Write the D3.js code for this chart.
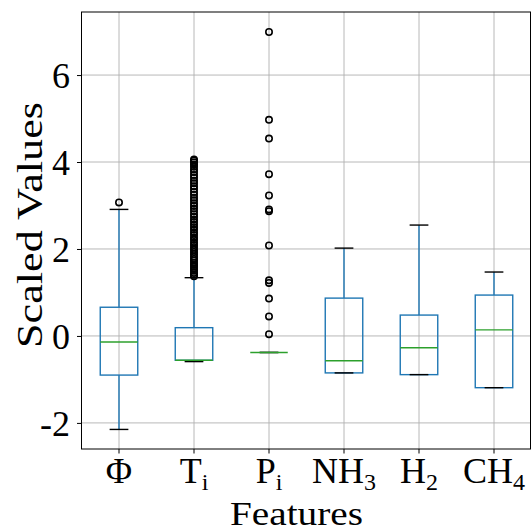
<!DOCTYPE html>
<html>
<head>
<meta charset="utf-8">
<script src="https://cdn.jsdelivr.net/npm/d3@7"></script>
<style>
  body { margin: 0; background: #fff; }
  text { font-family: "Liberation Serif", "DejaVu Serif", serif; fill: #000; }
</style>
</head>
<body>
<svg id="chart" width="531" height="532"></svg>
<script>
// features (tick label base + subscript)
var features = ["Phi", "Ti", "Pi", "NH3", "H2", "CH4"];
var labelBase = ["\u03A6", "T", "P", "NH", "H", "CH"];
var labelSub = ["", "i", "i", "3", "2", "4"];

// box stats
var whiskerLow = [-2.15, -0.59, -0.38, -0.85, -0.89, -1.19];
var q1 = [-0.90, -0.56, -0.38, -0.85, -0.89, -1.19];
var medians = [-0.14, -0.56, -0.38, -0.57, -0.27, 0.14];
var q3 = [0.66, 0.19, -0.38, 0.87, 0.48, 0.94];
var whiskerHigh = [2.91, 1.34, -0.38, 2.02, 2.55, 1.47];

// outliers
var fliersPhi = [3.07];
var fliersTi = [1.37, 1.41, 1.45, 1.50, 1.54, 1.59, 1.63, 1.68, 1.73, 1.77, 1.82, 1.88, 1.93,
  1.98, 2.04, 2.09, 2.15, 2.21, 2.26, 2.32, 2.38, 2.44, 2.50, 2.56, 2.62, 2.68, 2.74, 2.80,
  2.87, 2.93, 2.99, 3.05, 3.12, 3.18, 3.25, 3.31, 3.38, 3.44, 3.51, 3.57, 3.64, 3.70, 3.77,
  3.83, 3.89, 3.94, 3.99, 4.03, 4.06];
var fliersPi = [0.04, 0.45, 0.86, 1.22, 1.28, 2.08, 2.87, 2.91, 3.23, 3.72, 4.54, 4.97, 6.99];
var fliersOther = [];
var fliers = [fliersPhi, fliersTi, fliersPi, fliersOther, fliersOther, fliersOther];

var yTicks = [-2, 0, 2, 4, 6];

var blue = "#1f77b4", green = "#2ca02c", gridColor = "#b0b0b0";

var margin = {left: 81.5, right: 531.5, top: 12, bottom: 449};
var svg = d3.select("#chart");

var x = d3.scaleBand().domain(features).range([margin.left, margin.right]).padding(0);
var y = d3.scaleLinear().domain([-2.6, 7.45]).range([margin.bottom, margin.top]);
var cx = function(f) { return x(f) + x.bandwidth() / 2; };
var boxW = x.bandwidth() * 0.5;
var capW = x.bandwidth() * 0.25;

var data = features.map(function(f, i) {
  return {f: f, lo: whiskerLow[i], q1: q1[i], med: medians[i], q3: q3[i], hi: whiskerHigh[i], fl: fliers[i]};
});

// grid
var grid = svg.append("g");
grid.selectAll(".gy").data(yTicks).enter().append("line")
  .attr("x1", margin.left).attr("x2", margin.right)
  .attr("y1", function(d) { return y(d); }).attr("y2", function(d) { return y(d); })
  .attr("stroke", gridColor).attr("stroke-width", 0.9);
grid.selectAll(".gx").data(features).enter().append("line")
  .attr("x1", cx).attr("x2", cx)
  .attr("y1", margin.top).attr("y2", margin.bottom)
  .attr("stroke", gridColor).attr("stroke-width", 0.9);

// boxes
var g = svg.append("g").selectAll("g.box").data(data).enter().append("g").attr("class", "box");

g.append("line") // lower whisker
  .attr("x1", function(d) { return cx(d.f); }).attr("x2", function(d) { return cx(d.f); })
  .attr("y1", function(d) { return y(d.lo); }).attr("y2", function(d) { return y(d.q1); })
  .attr("stroke", blue).attr("stroke-width", 1.4);
g.append("line") // upper whisker
  .attr("x1", function(d) { return cx(d.f); }).attr("x2", function(d) { return cx(d.f); })
  .attr("y1", function(d) { return y(d.q3); }).attr("y2", function(d) { return y(d.hi); })
  .attr("stroke", blue).attr("stroke-width", 1.4);

g.append("rect")
  .attr("x", function(d) { return cx(d.f) - boxW / 2; })
  .attr("y", function(d) { return y(d.q3); })
  .attr("width", boxW)
  .attr("height", function(d) { return Math.max(0, y(d.q1) - y(d.q3)); })
  .attr("fill", "none").attr("stroke", blue).attr("stroke-width", 1.4);

// caps
["lo", "hi"].forEach(function(k) {
  g.append("line")
    .attr("x1", function(d) { return cx(d.f) - capW / 2; })
    .attr("x2", function(d) { return cx(d.f) + capW / 2; })
    .attr("y1", function(d) { return y(d[k]); }).attr("y2", function(d) { return y(d[k]); })
    .attr("stroke", "#000").attr("stroke-width", 1.4);
});

g.append("line") // median
  .attr("x1", function(d) { return cx(d.f) - boxW / 2; })
  .attr("x2", function(d) { return cx(d.f) + boxW / 2; })
  .attr("y1", function(d) { return y(d.med); }).attr("y2", function(d) { return y(d.med); })
  .attr("stroke", green).attr("stroke-width", 1.4);

// fliers
g.each(function(d) {
  d3.select(this).selectAll("circle").data(d.fl).enter().append("circle")
    .attr("cx", cx(d.f)).attr("cy", function(v) { return y(v); })
    .attr("r", 3.2)
    .attr("fill", "none").attr("stroke", "#000").attr("stroke-width", 1.6);
});

// frame
svg.append("rect")
  .attr("x", margin.left).attr("y", margin.top)
  .attr("width", margin.right - margin.left - 1).attr("height", margin.bottom - margin.top)
  .attr("fill", "none").attr("stroke", "#000").attr("stroke-width", 1);

// y axis
var yAxis = svg.append("g").attr("transform", "translate(" + margin.left + ",0)")
  .call(d3.axisLeft(y).tickValues(yTicks).tickSize(4.5).tickPadding(7)
    .tickFormat(function(d) { return d < 0 ? "-" + Math.abs(d) : d; }));
yAxis.select(".domain").remove();
yAxis.selectAll("text").style("font-family", "'Liberation Serif', serif").attr("font-size", 36).attr("dy", "0.34em");

// x axis
var xAxis = svg.append("g").attr("transform", "translate(0," + margin.bottom + ")")
  .call(d3.axisBottom(x).tickSize(4.5).tickPadding(6).tickFormat(""));
xAxis.select(".domain").remove();
xAxis.selectAll(".tick").each(function(f, i) {
  var t = d3.select(this).append("text")
    .attr("y", 34).attr("text-anchor", "middle")
    .style("font-family", "'Liberation Serif', serif").attr("font-size", 36);
  t.append("tspan").text(labelBase[i]);
  if (labelSub[i]) t.append("tspan").attr("font-size", 24).attr("dy", 7).text(labelSub[i]);
});

// axis titles
svg.append("text")
  .attr("x", 296.5).attr("y", 525)
  .attr("text-anchor", "middle").attr("font-size", 34)
  .attr("textLength", 133).attr("lengthAdjust", "spacingAndGlyphs")
  .text("Features");
svg.append("text")
  .attr("transform", "translate(42,225) rotate(-90)")
  .attr("text-anchor", "middle").attr("font-size", 36)
  .attr("textLength", 246).attr("lengthAdjust", "spacingAndGlyphs")
  .text("Scaled Values");
</script>
</body>
</html>
